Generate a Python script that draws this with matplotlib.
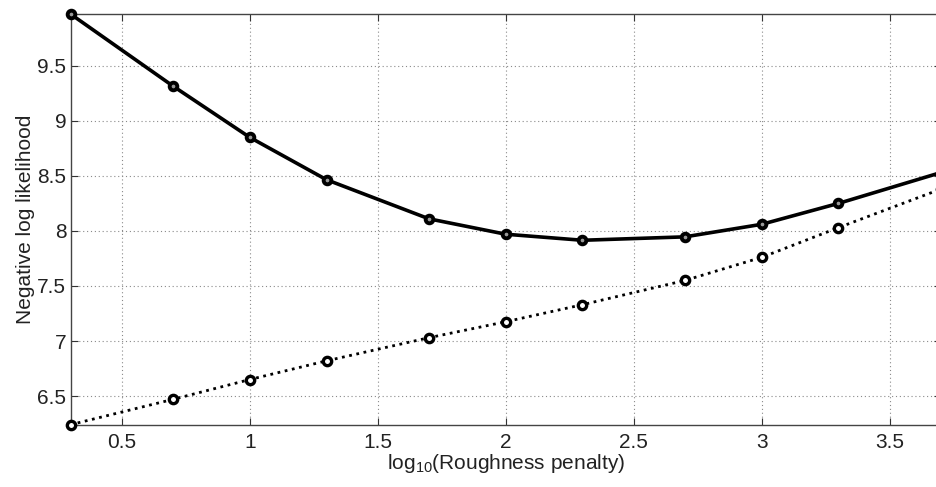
import numpy as np
import matplotlib
matplotlib.use('Agg')
import matplotlib.pyplot as plt

plt.rcParams['font.family'] = ['Liberation Sans', 'DejaVu Sans']
plt.rcParams['mathtext.default'] = 'regular'

# log10 roughness penalty
x = [0.3, 0.7, 1.0, 1.3, 1.7, 2.0, 2.3, 2.7, 3.0, 3.3, 3.7]
# negative log likelihood, held-out (solid) and training (dotted)
nll_solid = [9.97, 9.316, 8.85, 8.465, 8.11, 7.97, 7.915, 7.946, 8.06, 8.25, 8.53]
nll_dotted = [6.24, 6.47, 6.65, 6.82, 7.03, 7.175, 7.33, 7.55, 7.76, 8.03, 8.38]

xticks = [0.5, 1, 1.5, 2, 2.5, 3, 3.5]
yticks = [6.5, 7, 7.5, 8, 8.5, 9, 9.5]

fig = plt.figure(figsize=(9.36, 4.87), dpi=100)
ax = fig.add_axes([70.5 / 936, 62.3 / 487, 870.4 / 936, 410.7 / 487])

ax.plot(x, nll_solid, '-', color='k', lw=2.6, marker='o', ms=5.5,
        mfc='#999999', mec='k', mew=2.8, clip_on=False, zorder=3)
ax.plot(x, nll_dotted, ':', color='k', lw=2.0, marker='o', ms=6,
        mfc='white', mec='k', mew=2.4, clip_on=False, zorder=3)

ax.set_xlim(0.3, 3.7)
ax.set_ylim(6.24, 9.97)
ax.set_xticks(xticks)
ax.set_xticklabels(['0.5', '1', '1.5', '2', '2.5', '3', '3.5'])
ax.set_yticks(yticks)
ax.set_yticklabels(['6.5', '7', '7.5', '8', '8.5', '9', '9.5'])

ax.grid(True, linestyle=(0, (1, 2.5)), color='#8a8a8a', lw=0.8)
ax.tick_params(direction='in', length=5, width=0.8, labelsize=15,
               top=True, right=True, colors='#333333', labelcolor='#222222')
ax.tick_params(axis='x', pad=6)
ax.tick_params(axis='y', pad=3)
for s in ax.spines.values():
    s.set_color('#444444')
    s.set_linewidth(1.0)

ax.set_xlabel('log$_{10}$(Roughness penalty)', fontsize=15, color='#222222', labelpad=0)
ax.set_ylabel('Negative log likelihood', fontsize=15, color='#222222', labelpad=2)

fig.savefig('out.png', dpi=100)
